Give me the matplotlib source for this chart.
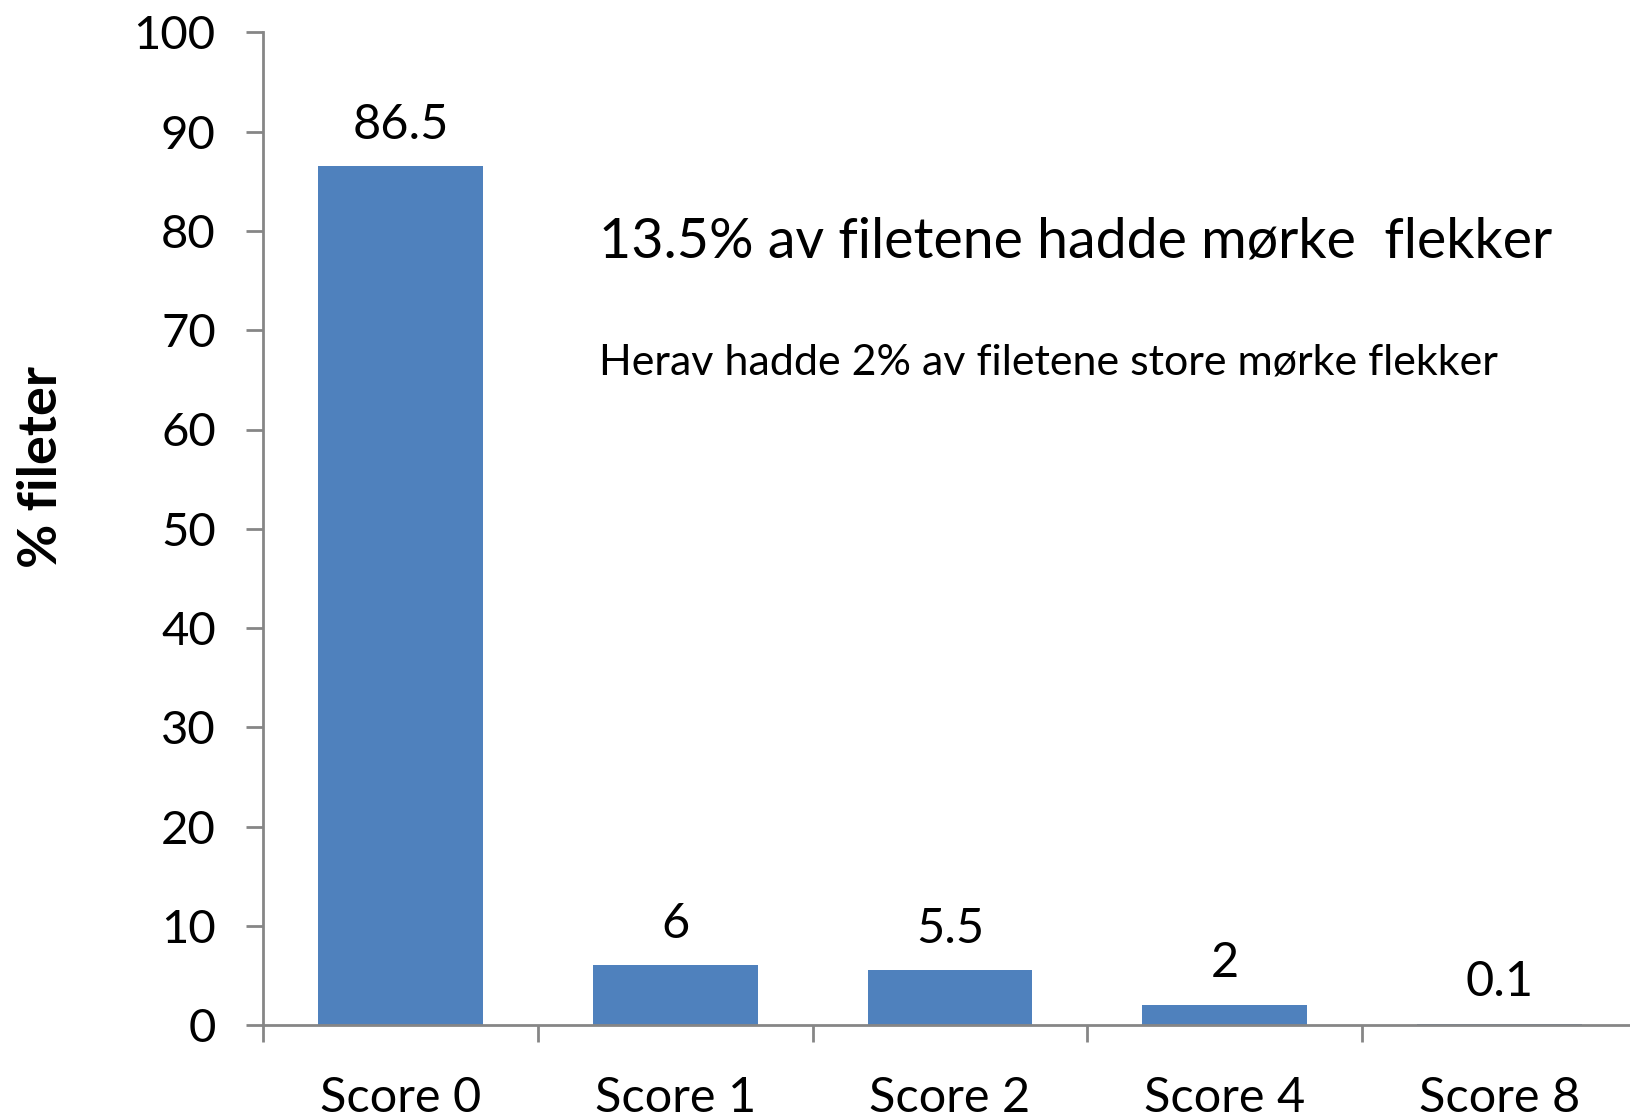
import matplotlib
matplotlib.use("Agg")
import matplotlib.pyplot as plt
import numpy as np

categories = ["Score 0", "Score 1", "Score 2", "Score 4", "Score 8"]
values = [86.5, 6, 5.5, 2, 0.1]
value_labels = ["86.5", "6", "5.5", "2", "0.1"]
yticks = [0, 10, 20, 30, 40, 50, 60, 70, 80, 90, 100]
ylabel = "% fileter"
note_big = "13.5% av filetene hadde mørke  flekker"
note_small = "Herav hadde 2% av filetene store mørke flekker"

plt.rcParams['font.family'] = ['Lato', 'DejaVu Sans']

W, H = 1630, 1118
fig = plt.figure(figsize=(W / 100, H / 100), dpi=100)
ax = fig.add_axes([263 / W, 1 - 1025 / H, (1637 - 263) / W, (1025 - 32.5) / H])

x = np.arange(len(categories))
bars = ax.bar(x, values, width=0.6, color="#4F81BD", zorder=2)
ax.set_xlim(-0.5, len(categories) - 0.5)
ax.set_ylim(0, 100)

for xi, v, lab in zip(x, values, value_labels):
    ax.annotate(lab, (xi, v), xytext=(0, 30), textcoords="offset points",
                ha="center", va="center", fontsize=35, color="black")

spine_c = "#868686"
for s in ["top", "right"]:
    ax.spines[s].set_visible(False)
for s in ["left", "bottom"]:
    ax.spines[s].set_color(spine_c)
    ax.spines[s].set_linewidth(2)

ax.set_yticks(yticks)
ax.set_yticklabels([str(t) for t in yticks])
ax.tick_params(axis="y", direction="out", length=12, width=2, color=spine_c,
               labelsize=34, pad=22)

ax.set_xticks(x)
ax.set_xticklabels(categories)
ax.tick_params(axis="x", which="major", length=0, labelsize=35, pad=36.5)
ax.set_xticks(np.arange(-0.5, len(categories), 1.0), minor=True)
ax.tick_params(axis="x", which="minor", direction="out", length=12, width=2,
               color=spine_c)

fig.text(42 / W, 1 - 467 / H, ylabel, rotation=90, ha="center", va="center",
         fontsize=39, fontweight="bold")

fig.text(599 / W, 1 - 242 / H, note_big, ha="left", va="center", fontsize=40)
fig.text(599 / W, 1 - 363 / H, note_small, ha="left", va="center", fontsize=31)

fig.savefig("out.png", dpi=100)
